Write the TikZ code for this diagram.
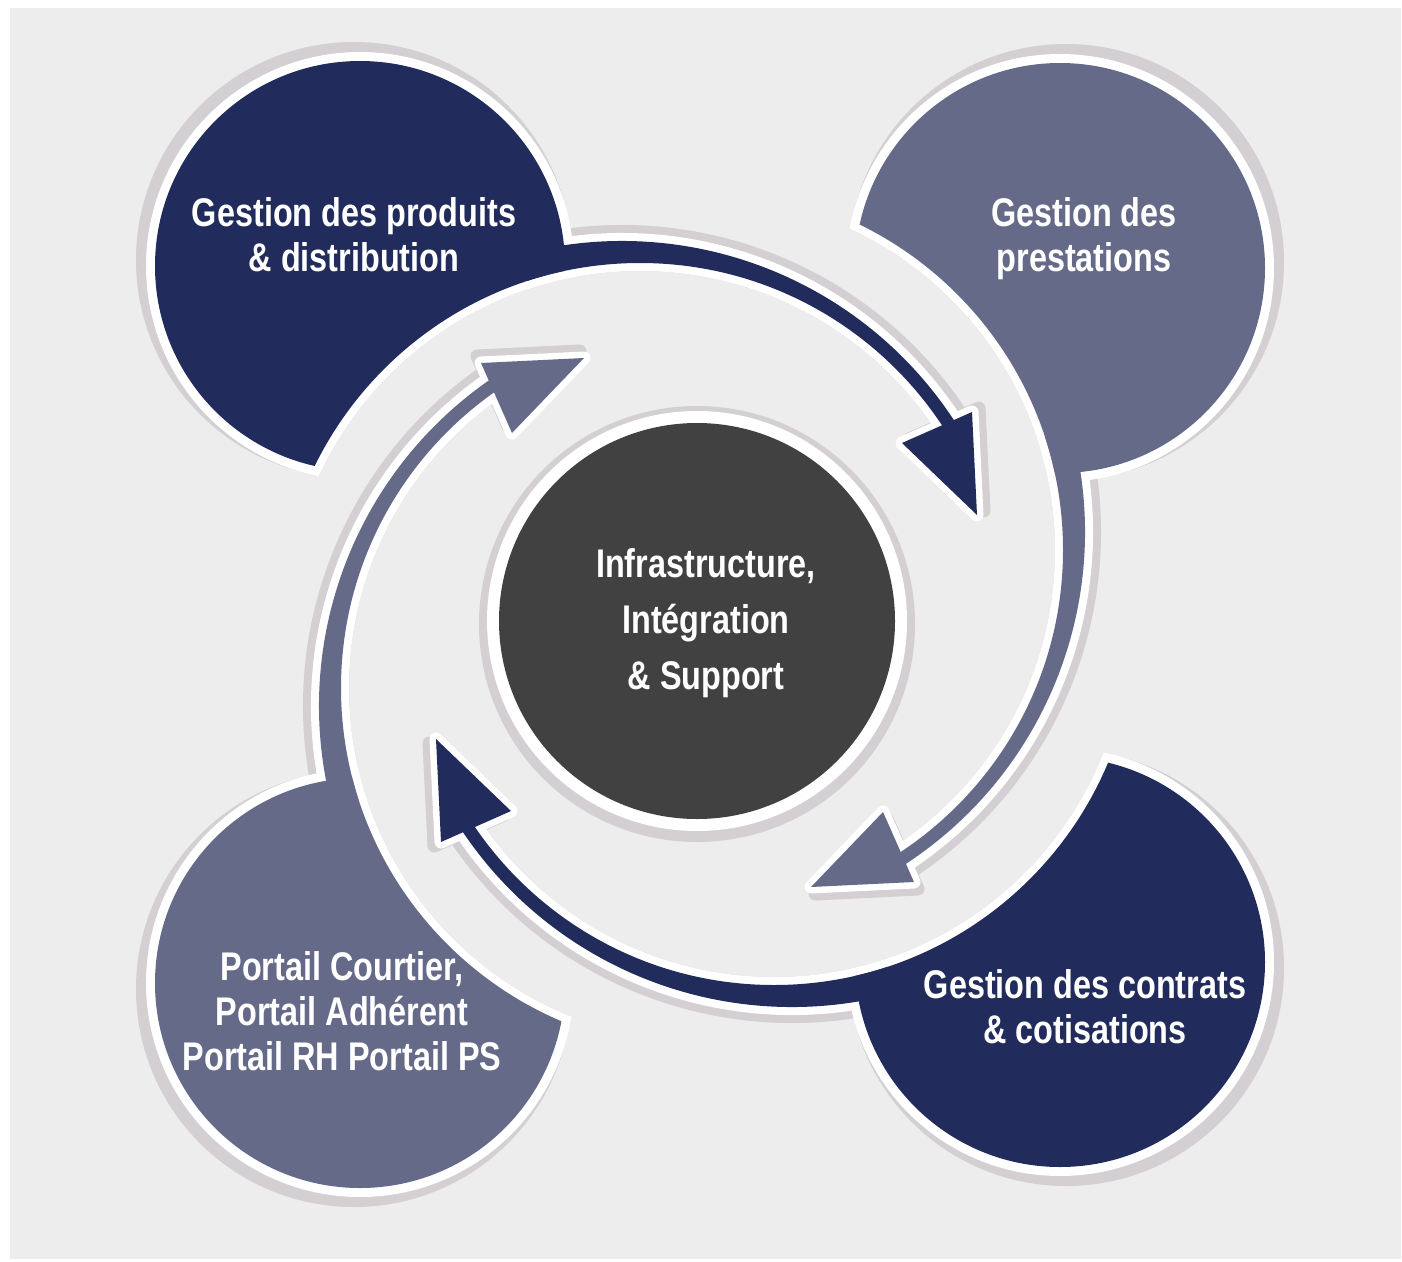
\documentclass[tikz,border=0pt]{standalone}
\usepackage{fontspec}
\newfontfamily\diagfont{Liberation Sans}[FakeStretch=0.81]
\definecolor{navy}{HTML}{212B5C}
\definecolor{slate}{HTML}{666A89}
\definecolor{core}{HTML}{414142}
\definecolor{paper}{HTML}{ECEDEC}
\definecolor{dropgray}{HTML}{D4CFD2}
\begin{document}
\begin{tikzpicture}[x=1pt,y=-1pt,
  hole/.style={insert path={(-700,-700) -- (2100,-700) -- (2100,2000) -- (-700,2000) -- cycle
      (640,625) ++(0:#1) arc[start angle=0,end angle=-360,radius=#1]}},
  band/.style={insert path={(622,638) -- ++(-105:#1) arc[start angle=-105,end angle=-32,radius=#1] -- cycle}},
  head/.style={insert path={(902,443) -- (972,412) -- (977,515) -- cycle}},
  caption/.style={text=white,align=center,inner sep=0pt,
      font=\diagfont\bfseries\fontsize{40}{45}\selectfont}]
\useasboundingbox (0,0) rectangle (1402,1261);
\fill[white] (0,0) rectangle (1402,1261);
\fill[paper] (10,8) rectangle (1401,1259);
% four quarters: circle, tail and arrow head
\foreach \ang/\col/\ax/\ay/\tx/\ty/\cx/\cy in {0/navy/0/0/0/0/360/266,
    -90/slate/0/0/0/0/358/266, 180/navy/-2/12/1/-6/354/286, 90/slate/-12/2/-7/-9/345/282}{
  \begin{scope}[shift={(\ax,\ay)},rotate around={\ang:(708,618)}]
    \begin{scope}
      \path[clip,hole=354];
      \fill[dropgray] (\cx-6,\cy-6) circle (218);
      \fill[dropgray,band=413];
    \end{scope}
    \filldraw[draw=dropgray,fill=dropgray,line width=13,line join=round,shift={(\tx+7,\ty-4)},head];
    \begin{scope}
      \path[clip,hole=354];
      \fill[white] (\cx,\cy) circle (214);
      \fill[white,band=405];
    \end{scope}
    \filldraw[draw=white,fill=white,line width=13,line join=round,shift={(\tx,\ty)},head];
    \begin{scope}
      \path[clip,hole=362];
      \fill[\col] (\cx,\cy) circle (205);
      \fill[\col,band=397];
    \end{scope}
    \fill[\col,shift={(\tx,\ty)},head];
  \end{scope}
}
% centre
\fill[dropgray] (697,624) circle (218);
\fill[white] (697,621) circle (210);
\fill[core] (697,621) circle (198);
\node[caption,font=\diagfont\bfseries\fontsize{40}{56}\selectfont] (infra) at (706,623)
  {Infrastructure,\\Intégration\\\& Support};
\node[caption] (produits) at (354,235) {Gestion des produits\\\& distribution};
\node[caption] (prestations) at (1084,239) {Gestion des\\prestations};
\node[caption] (contrats) at (1085,1007) {Gestion des contrats\\\& cotisations};
\node[caption] (portails) at (342,1011) {Portail Courtier,\\Portail Adhérent\\Portail RH Portail PS};
\end{tikzpicture}
\end{document}
